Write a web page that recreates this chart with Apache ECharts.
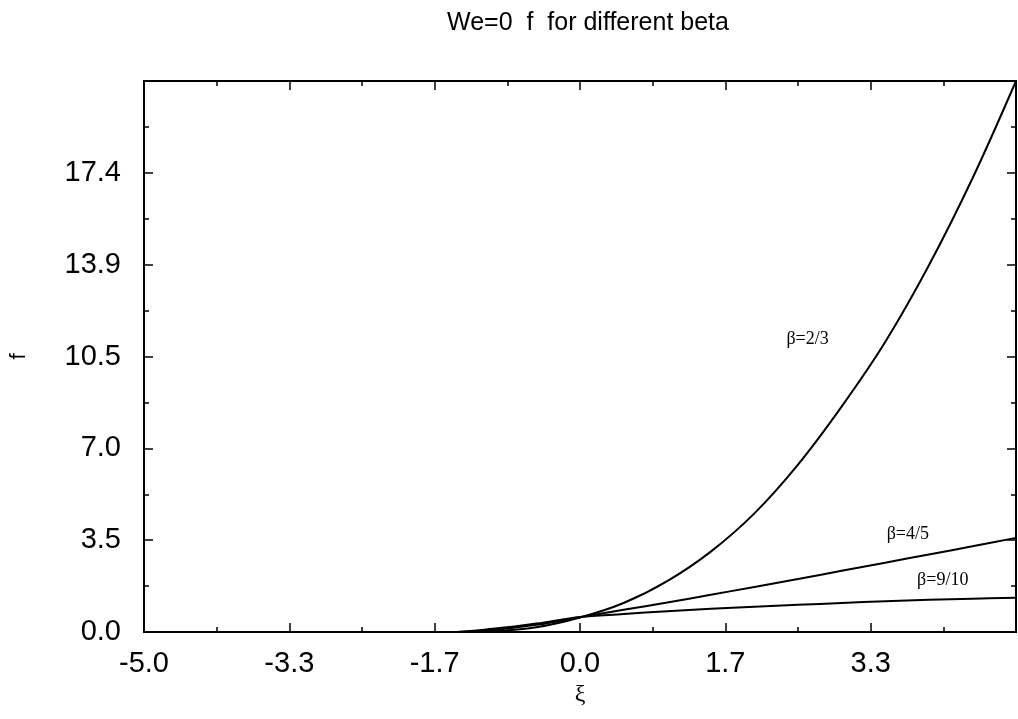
<!DOCTYPE html>
<html>
<head>
<meta charset="utf-8">
<title>We=0 f for different beta</title>
<script src="https://cdn.jsdelivr.net/npm/echarts@6/dist/echarts.min.js"></script>
<style>
  html, body { margin: 0; padding: 0; background: #fff; }
  #chart { width: 1018px; height: 719px; }
</style>
</head>
<body>
<div id="chart"></div>
<script>
// values
const xi23 = [-5.0, -4.0, -3.0, -2.0, -1.5, -1.0, -0.5, 0.0, 0.5, 1.0, 1.5, 2.0, 2.5, 3.0, 3.5, 4.0, 4.5, 5.0];
const f23 = [0, 0, 0, 0, 0, 0.03, 0.18, 0.55, 1.1, 1.93, 3.05, 4.5, 6.35, 8.55, 11.0, 13.9, 17.2, 20.9];

const xi45 = [-5.0, -4.0, -3.0, -2.0, -1.5, -1.0, -0.5, 0.0, 0.5, 1.0, 1.5, 2.0, 2.5, 3.0, 3.5, 4.0, 4.5, 5.0];
const f45 = [0, 0, 0, 0, 0, 0.08, 0.27, 0.56, 0.84, 1.12, 1.41, 1.71, 2.01, 2.32, 2.63, 2.94, 3.25, 3.57];

const xi910 = [-5.0, -4.0, -3.0, -2.0, -1.5, -1.0, -0.5, 0.0, 0.5, 1.0, 1.5, 2.0, 2.5, 3.0, 3.5, 4.0, 4.5, 5.0];
const f910 = [0, 0, 0, 0, 0, 0.12, 0.32, 0.57, 0.68, 0.79, 0.88, 0.96, 1.03, 1.1, 1.17, 1.22, 1.26, 1.3];

const yTickLabels = ['0.0', '3.5', '7.0', '10.5', '13.9', '17.4'];

// curve labels: text and where they sit (data units)
const curveNames = ['β=2/3', 'β=4/5', 'β=9/10'];
const labelAt = [[2.61, 11.1], [3.76, 3.7], [4.16, 1.95]];

const X_MIN = -5, X_MAX = 5, X_STEP = 5 / 3;
const Y_MIN = 0, Y_MAX = 20.9, Y_STEP = 20.9 / 6;

function pairs(xs, ys) {
  return xs.map((x, i) => [x, ys[i]]);
}

function fmtX(v) {
  if (Math.abs(v) < 1e-9) v = 0;
  return v.toFixed(1);
}

function fmtY(v) {
  const i = Math.round(v / Y_STEP);
  return yTickLabels[i] !== undefined ? yTickLabels[i] : '';
}

const chart = echarts.init(document.getElementById('chart'));

const tickFont = { fontFamily: 'Liberation Sans', fontSize: 29, color: '#000' };
const lineBlack = { color: '#000', width: 2 };

function xAxis(pos, labels) {
  return {
    type: 'value',
    position: pos,
    min: X_MIN,
    max: X_MAX,
    interval: X_STEP,
    axisLine: { show: true, onZero: false, lineStyle: lineBlack },
    axisTick: { show: true, inside: true, length: 9, lineStyle: { color: '#000', width: 1.5 } },
    minorTick: { show: true, splitNumber: 2, length: 5, lineStyle: { color: '#000', width: 1.5 } },
    splitLine: { show: false },
    axisLabel: labels
      ? Object.assign({ show: true, margin: 17, showMaxLabel: false, formatter: fmtX }, tickFont)
      : { show: false }
  };
}

function yAxis(pos, labels) {
  return {
    type: 'value',
    position: pos,
    min: Y_MIN,
    max: Y_MAX,
    interval: Y_STEP,
    axisLine: { show: true, onZero: false, lineStyle: lineBlack },
    axisTick: { show: true, inside: true, length: 9, lineStyle: { color: '#000', width: 1.5 } },
    minorTick: { show: true, splitNumber: 2, length: 5, lineStyle: { color: '#000', width: 1.5 } },
    splitLine: { show: false },
    axisLabel: labels
      ? Object.assign({ show: true, margin: 23, showMaxLabel: false, formatter: fmtY }, tickFont)
      : { show: false }
  };
}

const xBottom = xAxis('bottom', true);
xBottom.name = 'ξ';
xBottom.nameLocation = 'middle';
xBottom.nameGap = 40;
xBottom.nameTextStyle = { fontFamily: 'Liberation Serif', fontSize: 24, color: '#000' };

const yLeft = yAxis('left', true);
yLeft.name = 'f';
yLeft.nameLocation = 'middle';
yLeft.nameGap = 114;
yLeft.nameRotate = 90;
yLeft.nameTextStyle = { fontFamily: 'Liberation Sans', fontSize: 22, color: '#000' };

const allData = [pairs(xi23, f23), pairs(xi45, f45), pairs(xi910, f910)];

const series = allData.map((d, i) => ({
  name: curveNames[i],
  type: 'line',
  xAxisIndex: 0,
  yAxisIndex: 0,
  data: d,
  smooth: 0.35,
  showSymbol: false,
  lineStyle: { color: '#000', width: 2 },
  markPoint: {
    symbol: 'circle',
    symbolSize: 0,
    silent: true,
    label: {
      show: true,
      position: 'inside',
      formatter: curveNames[i],
      fontFamily: 'Liberation Serif',
      fontSize: 18,
      color: '#000'
    },
    data: [{ coord: labelAt[i] }]
  }
}));

chart.setOption({
  animation: false,
  backgroundColor: '#fff',
  title: {
    text: 'We=0  f  for different beta',
    left: 583,
    top: 6,
    textAlign: 'center',
    textStyle: { fontFamily: 'Liberation Sans', fontSize: 25, fontWeight: 'normal', color: '#000' }
  },
  grid: {
    left: 144, right: 2, top: 81, bottom: 87,
    show: true, borderColor: '#000', borderWidth: 2,
    containLabel: false, outerBoundsMode: 'none'
  },
  xAxis: [xBottom, xAxis('top', false)],
  yAxis: [yLeft, yAxis('right', false)],
  series: series
});
</script>
</body>
</html>
